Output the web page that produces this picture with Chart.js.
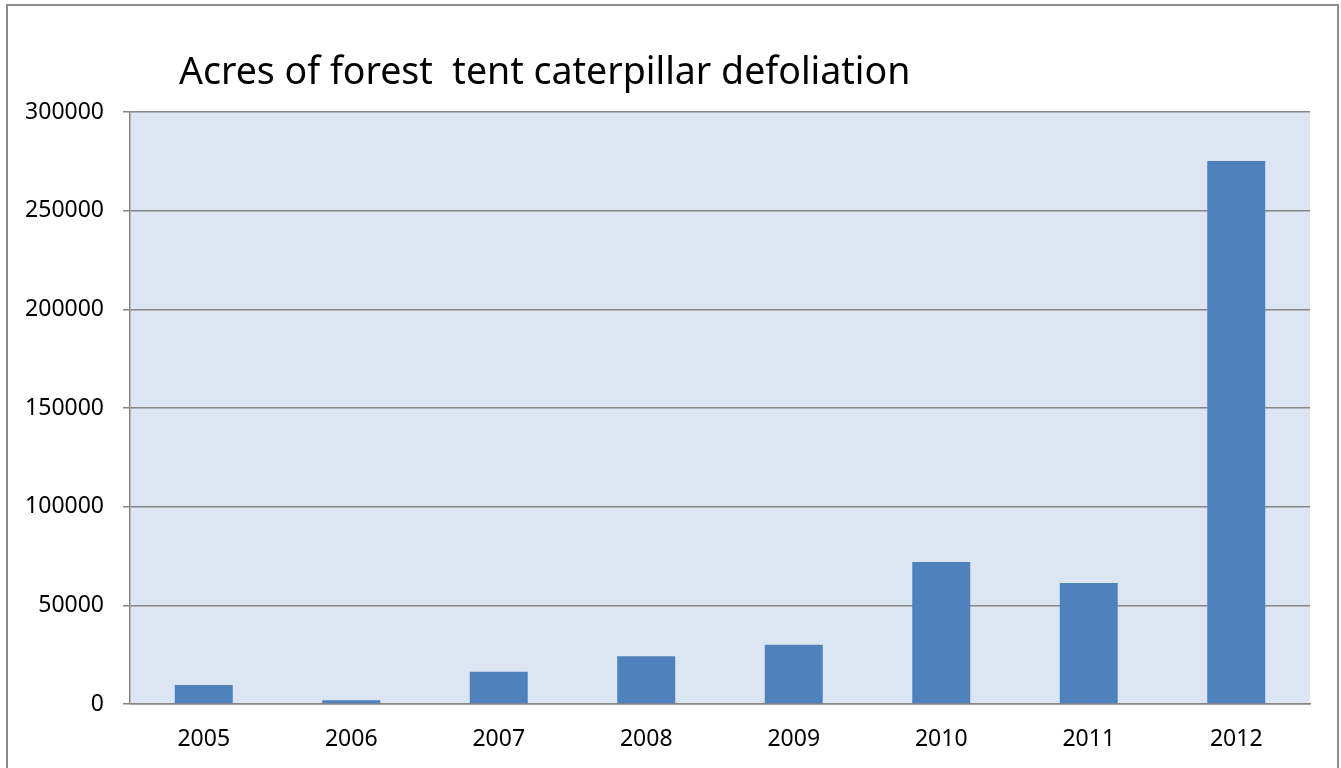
<!DOCTYPE html>
<html>
<head>
<meta charset="utf-8">
<script src="https://cdn.jsdelivr.net/npm/chart.js@4/dist/chart.umd.min.js"></script>
<style>
  html, body { margin: 0; padding: 0; background: #fff; }
  #wrap { width: 1341px; height: 768px; position: relative; }
</style>
</head>
<body>
<div id="wrap"><canvas id="chart"></canvas></div>
<script>
const years = ["2005", "2006", "2007", "2008", "2009", "2010", "2011", "2012"];
const acres = [9600, 1900, 16400, 24200, 30000, 72000, 61300, 275200];
const chartTitle = "Acres of forest  tent caterpillar defoliation";

const FONT = "'Noto Sans', sans-serif";

// frame around the whole chart, plot background and the title text
const framePlugin = {
  id: "frame",
  beforeDraw: (chart) => {
    const ctx = chart.ctx;
    const area = chart.chartArea;
    ctx.save();
    ctx.fillStyle = "#ffffff";
    ctx.fillRect(0, 0, chart.width, chart.height);
    ctx.strokeStyle = "#8c8c8c";
    ctx.lineWidth = 2;
    ctx.strokeRect(7, 5, 1331, chart.height + 20);
    ctx.fillStyle = "#dce6f2";
    ctx.fillRect(area.left, area.top, area.right - area.left, area.bottom - area.top);
    ctx.restore();
  },
  afterDraw: (chart) => {
    const ctx = chart.ctx;
    ctx.save();
    ctx.font = `37.5px ${FONT}`;
    ctx.fillStyle = "#000";
    ctx.textAlign = "left";
    ctx.textBaseline = "alphabetic";
    ctx.fillText(chartTitle, 179, 84);
    ctx.restore();
  },
};

new Chart(document.getElementById("chart"), {
  type: "bar",
  data: {
    labels: years,
    datasets: [
      {
        data: acres,
        backgroundColor: "#4f81bd",
        barPercentage: 0.393,
        categoryPercentage: 1,
      },
    ],
  },
  options: {
    responsive: true,
    maintainAspectRatio: false,
    animation: false,
    layout: { padding: { top: 112, right: 31, bottom: 0, left: 0 } },
    plugins: {
      legend: { display: false },
      tooltip: { enabled: false },
    },
    scales: {
      x: {
        grid: { display: false, drawTicks: false },
        border: { color: "#868686", width: 1.5 },
        ticks: { color: "#000", font: { family: FONT, size: 23 }, padding: 22, maxRotation: 0 },
        afterFit: (scale) => { scale.height = 64; },
      },
      y: {
        min: 0,
        max: 300000,
        grid: { color: "#868686", lineWidth: 1.5, tickLength: 7 },
        border: { color: "#868686", width: 1.5 },
        ticks: {
          stepSize: 50000,
          color: "#000",
          font: { family: FONT, size: 23 },
          padding: 19,
          callback: (value) => String(value),
        },
        afterFit: (scale) => { scale.width = 130; },
      },
    },
  },
  plugins: [framePlugin],
});
</script>
</body>
</html>
